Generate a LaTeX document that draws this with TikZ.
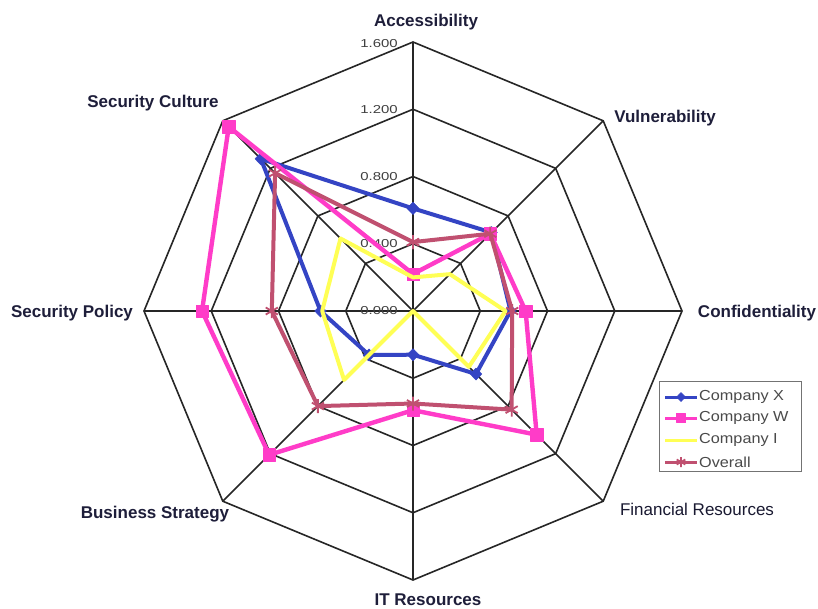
\documentclass[tikz,border=0pt]{standalone}
\usepackage{fontspec}
\setmainfont{Liberation Sans}
\usetikzlibrary{plotmarks}
\definecolor{cx}{HTML}{3444C4}
\definecolor{cw}{HTML}{FF3CC8}
\definecolor{ci}{HTML}{FFFF55}
\definecolor{co}{HTML}{C05070}
\definecolor{gridc}{HTML}{262626}
\definecolor{labc}{HTML}{1E1E3A}
\definecolor{legc}{HTML}{4A4A4A}
\tikzset{
  gridline/.style={draw=gridc, line width=1.6pt},
  axlab/.style={text=labc, font=\fontsize{17}{20}\selectfont\bfseries, inner sep=0pt},
  axlabreg/.style={text=labc!85!black, font=\fontsize{17}{20}\selectfont, inner sep=0pt},
  ticklab/.style={text=black!75, font=\fontsize{11.5}{13}\selectfont, inner sep=0pt, anchor=east},
  leglab/.style={text=legc, font=\fontsize{14.5}{17}\selectfont, inner sep=0pt, anchor=west},
  serx/.style={draw=cx, line width=4pt, line join=round, mark=diamond*, mark size=6pt, mark options={fill=cx, draw=cx, line width=0.5pt, xscale=1.3}},
  serw/.style={draw=cw, line width=4.4pt, line join=round, mark=square*, mark size=6.2pt, mark options={fill=cw, draw=cw, line width=0.5pt}},
  seri/.style={draw=ci, line width=4pt, line join=round},
  sero/.style={draw=co, line width=4pt, line join=round, mark=asterisk, mark size=7pt, mark options={draw=co, line width=1.8pt}},
}
\begin{document}
\begin{tikzpicture}[x=1pt,y=1pt]
\useasboundingbox (0,-608) rectangle (818,0);
\fill[white] (0,-608) rectangle (818,0);

\begin{scope}[shift={(413,-311)}]
  % spokes and rings (0.4 per ring, 1.6 = 269)
  \foreach \a in {90,45,0,-45,-90,-135,180,135}
    \draw[gridline] (0,0) -- (\a:269);
  \foreach \r in {67.25,134.5,201.75,269}
    \draw[gridline] (90:\r) -- (45:\r) -- (0:\r) -- (-45:\r) -- (-90:\r)
      -- (-135:\r) -- (180:\r) -- (135:\r) -- cycle;

  % scale labels
  \node[ticklab] (t0) at (-15,0)      {\scalebox{1.3}[1]{0.000}};
  \node[ticklab] (t1) at (-15,67.25)  {\scalebox{1.3}[1]{0.400}};
  \node[ticklab] (t2) at (-15,134.5)  {\scalebox{1.3}[1]{0.800}};
  \node[ticklab] (t3) at (-15,201.75) {\scalebox{1.3}[1]{1.200}};
  \node[ticklab] (t4) at (-15,267)    {\scalebox{1.3}[1]{1.600}};

  % data series (radius = value * 269/1.6)
  \draw[serx] plot coordinates {(90:102.6) (45:111.0) (0:97.5) (-45:89.1)
      (-90:43.7) (-135:62.2) (180:92.5) (135:215.2) (90:102.6)};
  \draw[serw] plot coordinates {(90:37.0) (45:109.3) (0:112.6) (-45:174.9)
      (-90:99.2) (-135:203.4) (180:211.0) (135:260.6) (90:37.0)};
  \draw[seri] (90:33.6) -- (45:52.1) -- (0:92.5) -- (-45:79.0) -- (0,0)
      -- (-135:97.5) -- (180:90.8) -- (135:102.6) -- cycle;
  \draw[sero] plot coordinates {(90:68.9) (45:109.3) (0:99.2) (-45:139.5)
      (-90:92.5) (-135:134.5) (180:141.2) (135:195.0) (90:68.9)};
\end{scope}

% axis titles
\node[axlab] (acc) at (426,-22) {Accessibility};
\node[axlab] (vul) at (665,-118) {Vulnerability};
\node[axlab] (con) at (757,-313) {Confidentiality};
\node[axlabreg] (fin) at (697,-509) {Financial Resources};
\node[axlab] (itr) at (428,-600) {IT Resources};
\node[axlab] (bus) at (155,-514) {Business Strategy};
\node[axlab] (pol) at (72,-313) {Security Policy};
\node[axlab] (cul) at (153,-103) {Security Culture};

% legend
\draw[draw=black!55, line width=1pt, fill=white] (659,-381) rectangle (801,-471);
\draw[serx, line width=3pt] (665,-397) -- (697,-397);
\draw[serx, mark size=4.5pt] plot coordinates {(681,-397)};
\node[leglab] (lx) at (699,-397) {\scalebox{1.12}[1]{Company X}};
\draw[serw, line width=3pt] (665,-418) -- (697,-418);
\draw[serw, mark size=4.5pt] plot coordinates {(681,-418)};
\node[leglab] (lw) at (699,-418) {\scalebox{1.12}[1]{Company W}};
\draw[seri, line width=3pt] (665,-440) -- (697,-440);
\node[leglab] (li) at (699,-440) {\scalebox{1.12}[1]{Company I}};
\draw[sero, line width=3pt] (665,-462) -- (697,-462);
\draw[sero, mark size=5pt] plot coordinates {(681,-462)};
\node[leglab] (lo) at (699,-462) {\scalebox{1.12}[1]{Overall}};
\end{tikzpicture}
\end{document}
